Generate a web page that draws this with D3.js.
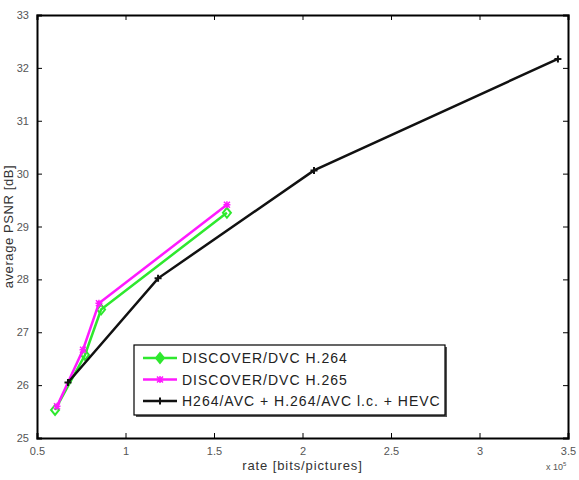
<!DOCTYPE html>
<html>
<head>
<meta charset="utf-8">
<script src="https://cdn.jsdelivr.net/npm/d3@7"></script>
<style>
  html, body { margin: 0; padding: 0; background: #fff; overflow: hidden; }
  svg { display: block; }
  text { font-family: "Liberation Sans", Arial, sans-serif; }
</style>
</head>
<body>
<svg id="chart"></svg>
<script>
// rate values are in units of 10^5 bits/pictures
const rateH264 = [0.602, 0.771, 0.862, 1.573];
const psnrH264 = [25.53, 26.57, 27.43, 29.26];
const rateH265 = [0.613, 0.760, 0.850, 1.573];
const psnrH265 = [25.60, 26.67, 27.55, 29.41];
const rateAvc = [0.675, 1.184, 2.065, 3.443];
const psnrAvc = [26.05, 28.02, 30.06, 32.17];
const xTicks = [0.5, 1, 1.5, 2, 2.5, 3, 3.5];
const yTicks = [25, 26, 27, 28, 29, 30, 31, 32, 33];
const seriesNames = ["DISCOVER/DVC H.264", "DISCOVER/DVC H.265", "H264/AVC + H.264/AVC l.c. + HEVC"];

const width = 579, height = 480;
const margin = { top: 15, right: 11, bottom: 42, left: 37 };
const innerWidth = width - margin.left - margin.right;
const innerHeight = height - margin.top - margin.bottom;

let svg = d3.select("#chart").attr("width", width).attr("height", height);

let xScale = d3.scaleLinear().domain([0.5, 3.5]).range([0, innerWidth]);
let yScale = d3.scaleLinear().domain([25, 33]).range([innerHeight, 0]);

let g = svg.append("g").attr("transform", `translate(${margin.left},${margin.top})`);

//bottom and left axes, ticks pointing inwards
let xAxis = g.append("g")
    .attr("transform", `translate(0,${innerHeight})`)
    .call(d3.axisBottom(xScale).tickValues(xTicks).tickSize(-5).tickPadding(9).tickFormat(d3.format("")));
let yAxis = g.append("g")
    .call(d3.axisLeft(yScale).tickValues(yTicks).tickSize(-5).tickPadding(8).tickFormat(d3.format("d")));

//top and right ticks without labels
let xTop = g.append("g")
    .call(d3.axisTop(xScale).tickValues(xTicks).tickSize(-5));
let yRight = g.append("g")
    .attr("transform", `translate(${innerWidth},0)`)
    .call(d3.axisRight(yScale).tickValues(yTicks).tickSize(-5));
xTop.selectAll(".tick text").remove();
yRight.selectAll(".tick text").remove();

[xAxis, yAxis, xTop, yRight].forEach(a => {
    a.select(".domain").attr("stroke", "#000").attr("stroke-width", 2);
    a.selectAll(".tick line").attr("stroke", "#000").attr("stroke-width", 1);
    a.selectAll(".tick text").attr("font-size", "11px").attr("fill", "#555")
        .style("font-family", "'Liberation Sans', Arial, sans-serif");
});

//axis titles
svg.append("text")
    .attr("x", margin.left + innerWidth / 2)
    .attr("y", 470)
    .attr("text-anchor", "middle")
    .attr("font-size", "13px")
    .attr("letter-spacing", "0.9px")
    .attr("fill", "#333")
    .text("rate [bits/pictures]");

svg.append("text")
    .attr("transform", `translate(13,${margin.top + innerHeight / 2}) rotate(-90)`)
    .attr("text-anchor", "middle")
    .attr("font-size", "13px")
    .attr("letter-spacing", "0.6px")
    .attr("fill", "#333")
    .text("average PSNR [dB]");

let expo = svg.append("text")
    .attr("x", 546)
    .attr("y", 470)
    .attr("font-size", "9px")
    .attr("fill", "#555");
expo.append("tspan").text("x 10");
expo.append("tspan").attr("dy", -4).attr("font-size", "6px").text("5");

let series = [
    { name: seriesNames[0], x: rateH264, y: psnrH264, color: "#2ee82e", marker: "diamond" },
    { name: seriesNames[1], x: rateH265, y: psnrH265, color: "#ff1aff", marker: "star" },
    { name: seriesNames[2], x: rateAvc, y: psnrAvc, color: "#111", marker: "plus" }
];

let line = d3.line().x(d => xScale(d[0])).y(d => yScale(d[1]));

function drawMarker(sel, type, color, cx, cy, filled) {
    if (type === "diamond") {
        sel.append("path")
            .attr("d", `M${cx},${cy - 5}L${cx + 4},${cy}L${cx},${cy + 5}L${cx - 4},${cy}Z`)
            .attr("fill", filled ? color : "none").attr("stroke", color).attr("stroke-width", 2);
    } else if (type === "star") {
        sel.append("path")
            .attr("d", `M${cx - 3},${cy - 3}L${cx + 3},${cy + 3}M${cx - 3},${cy + 3}L${cx + 3},${cy - 3}M${cx - 3.5},${cy}L${cx + 3.5},${cy}M${cx},${cy - 3.5}L${cx},${cy + 3.5}`)
            .attr("stroke", color).attr("stroke-width", 1.5);
    } else {
        sel.append("path")
            .attr("d", `M${cx - 3.5},${cy}L${cx + 3.5},${cy}M${cx},${cy - 3.5}L${cx},${cy + 3.5}`)
            .attr("stroke", color).attr("stroke-width", 2);
    }
}

series.forEach(s => {
    let pts = s.x.map((v, i) => [v, s.y[i]]);
    g.append("path")
        .datum(pts)
        .attr("d", line)
        .attr("fill", "none")
        .attr("stroke", s.color)
        .attr("stroke-width", 2.5);
    pts.forEach(p => drawMarker(g, s.marker, s.color, xScale(p[0]), yScale(p[1]), false));
});

//legend
let legend = svg.append("g").attr("transform", "translate(134,345)");
legend.append("rect")
    .attr("x", 2).attr("y", 2)
    .attr("width", 311).attr("height", 70)
    .attr("fill", "#555");
legend.append("rect")
    .attr("width", 311).attr("height", 70)
    .attr("fill", "#fff").attr("stroke", "#000").attr("stroke-width", 1.2);

series.forEach((s, i) => {
    let ly = 13 + i * 21.5;
    legend.append("line")
        .attr("x1", 9).attr("x2", 43)
        .attr("y1", ly).attr("y2", ly)
        .attr("stroke", s.color).attr("stroke-width", 2.5);
    drawMarker(legend, s.marker, s.color, 26, ly, true);
    legend.append("text")
        .attr("x", 48).attr("y", ly + 5)
        .attr("font-size", "14px")
        .attr("letter-spacing", "1px")
        .attr("fill", "#222")
        .text(s.name);
});
</script>
</body>
</html>
